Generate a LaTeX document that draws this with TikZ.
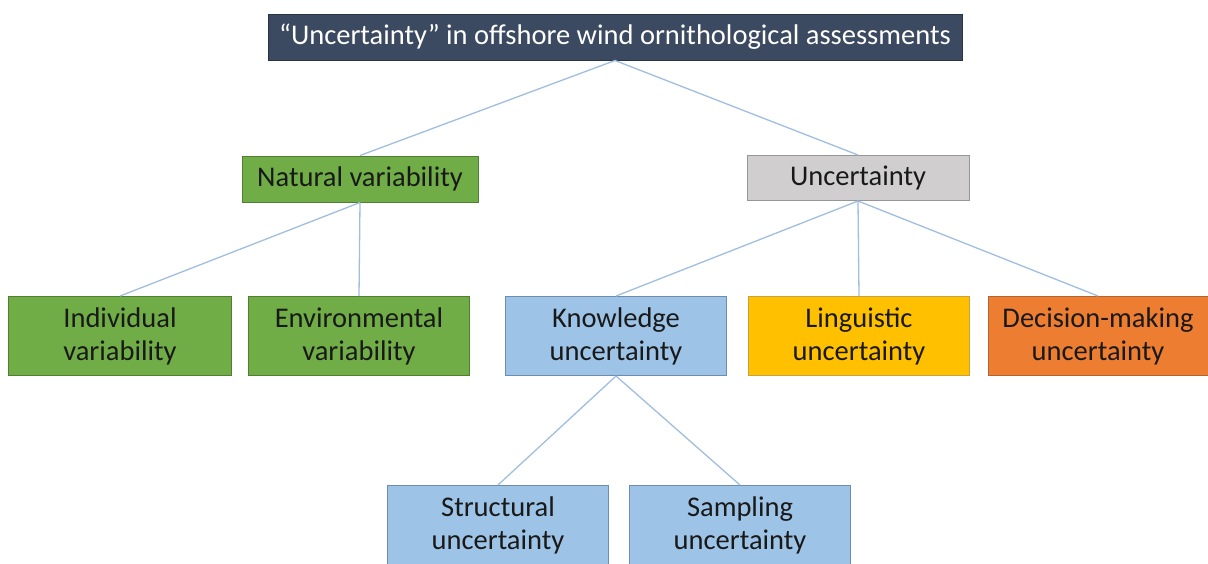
\documentclass[tikz,border=0pt]{standalone}
\usepackage{fontspec}
\setmainfont{Carlito}
\definecolor{slate}{RGB}{59,74,96}
\definecolor{natgreen}{RGB}{112,173,71}
\definecolor{natgreenline}{RGB}{80,126,50}
\definecolor{uncgray}{RGB}{208,206,206}
\definecolor{uncgrayline}{RGB}{150,150,150}
\definecolor{knowblue}{RGB}{157,195,230}
\definecolor{knowblueline}{RGB}{110,140,175}
\definecolor{linggold}{RGB}{255,192,0}
\definecolor{linggoldline}{RGB}{200,160,60}
\definecolor{decorange}{RGB}{237,125,49}
\definecolor{decorangeline}{RGB}{180,100,50}
\definecolor{linkblue}{RGB}{160,190,222}
\begin{document}
\begin{tikzpicture}[x=1pt,y=-1pt,
    box/.style={draw,line width=1pt,align=center,inner sep=0pt,
      minimum width=221pt,minimum height=79pt,text=black!90,
      font=\fontsize{28.5}{33}\selectfont},
    headbox/.style={box,fill=slate,draw=slate!70!black,text=white,
      minimum width=694pt,minimum height=46pt},
    natbox/.style={box,fill=natgreen,draw=natgreenline},
    uncbox/.style={box,fill=uncgray,draw=uncgrayline},
    knowbox/.style={box,fill=knowblue,draw=knowblueline},
    lingbox/.style={box,fill=linggold,draw=linggoldline},
    decbox/.style={box,fill=decorange,draw=decorangeline},
    link/.style={draw=linkblue,line width=1.3pt}]
  \useasboundingbox (0,0) rectangle (1208,563);
  \path
    (615,37) node[headbox] (head){``Uncertainty'' in offshore wind ornithological assessments}
    (360,179) node[natbox,minimum width=236pt,minimum height=46pt] (natural){Natural variability}
    (858,178) node[uncbox,minimum width=222pt,minimum height=45pt] (uncert){Uncertainty}
    (120,336) node[natbox,minimum width=223pt] (individual){Individual\\variability}
    (359,336) node[natbox] (environmental){Environmental\\variability}
    (616,336) node[knowbox] (knowledge){Knowledge\\uncertainty}
    (859,336) node[lingbox] (linguistic){Linguistic\\uncertainty}
    (1098,336) node[decbox,minimum width=220pt] (decision){Decision-making\\uncertainty}
    (498,525) node[knowbox] (structural){Structural\\uncertainty}
    (740,525) node[knowbox] (sampling){Sampling\\uncertainty};
  \begin{scope}[link]
    \draw (head.south) to (natural.north);
    \draw (head.south) to (uncert.north);
    \draw (natural.south) to (individual.north);
    \draw (natural.south) to (environmental.north);
    \draw (uncert.south) to (knowledge.north);
    \draw (uncert.south) to (linguistic.north);
    \draw (uncert.south) to (decision.north);
    \draw (knowledge.south) to (structural.north);
    \draw (knowledge.south) to (sampling.north);
  \end{scope}
\end{tikzpicture}
\end{document}
